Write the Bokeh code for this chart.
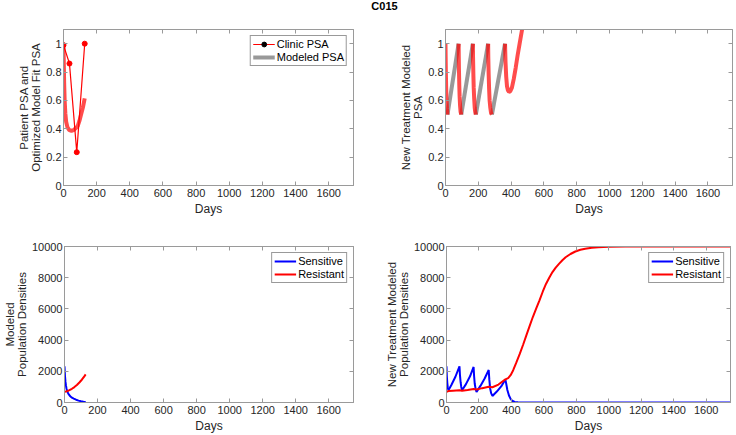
from bokeh.plotting import figure
from bokeh.layouts import column, row
from bokeh.models import (Range1d, FixedTicker, PrintfTickFormatter, LinearAxis,
                          Legend, LegendItem, Label, CustomLabelingPolicy)
from bokeh.embed import file_html
from bokeh.resources import INLINE

# ---------------- data ----------------
title_text = "C015"
x_ticks = [0, 200, 400, 600, 800, 1000, 1200, 1400, 1600]
psa_ticks = [0, 0.2, 0.4, 0.6, 0.8, 1.0]
pop_ticks = [0, 2000, 4000, 6000, 8000, 10000]

# top-left: clinic PSA and fitted model
clinic_days = [0, 36, 80, 128]
clinic_psa = [0.99, 0.86, 0.235, 1.0]
fit_days = [0, 2, 4, 7, 11, 16, 24, 35, 48, 60, 75, 86, 96, 106, 117, 128]
fit_psa = [1.0, 0.85, 0.72, 0.60, 0.51, 0.45, 0.41, 0.39, 0.385, 0.39, 0.405,
           0.42, 0.455, 0.50, 0.55, 0.615]
# legend sample glyphs (kept outside the visible day range)
legend_proxy_days = [-200, -100]
legend_proxy_vals = [0.5, 0.5]

# top-right: new treatment modeled PSA (on treatment = red, off = gray)
on_days = [
    [0, 1, 2, 4, 6, 9, 12],
    [80, 81, 82, 84, 86, 89, 92, 96],
    [167, 168, 170, 172, 175, 178, 181, 185],
    [260, 261, 263, 266, 269, 273, 278, 283],
    [363, 366, 370, 375, 381, 387, 395, 405, 416, 428, 440, 452, 467, 480],
]
on_psa = [
    [1.0, 0.9, 0.81, 0.69, 0.61, 0.54, 0.5],
    [1.0, 0.9, 0.82, 0.71, 0.63, 0.56, 0.52, 0.5],
    [1.0, 0.9, 0.78, 0.69, 0.61, 0.55, 0.52, 0.5],
    [1.0, 0.9, 0.79, 0.68, 0.60, 0.55, 0.51, 0.5],
    [1.0, 0.87, 0.77, 0.70, 0.67, 0.66, 0.665, 0.69, 0.75, 0.83, 0.92, 1.0, 1.1, 1.2],
]
off_days = [[12, 80], [96, 167], [185, 260], [283, 363]]
off_psa = [[0.5, 1.0], [0.5, 1.0], [0.5, 1.0], [0.5, 1.0]]

# bottom-left: modeled population densities
fit_sens_days = [0, 3, 6, 9, 12, 16, 21, 27, 35, 45, 56, 70, 85, 100, 115, 128]
fit_sens = [2320, 1700, 1320, 1080, 900, 740, 610, 500, 400, 310, 250, 180, 120,
            80, 50, 30]
fit_res_days = [0, 15, 30, 45, 60, 75, 90, 105, 120, 128]
fit_res = [680, 720, 790, 880, 990, 1120, 1280, 1460, 1670, 1800]

# bottom-right: new treatment population densities
new_sens_days = [0, 2, 5, 8, 12, 30, 55, 80, 83, 87, 91, 96, 120, 145, 167, 170,
                 174, 179, 185, 210, 235, 260, 264, 269, 275, 283, 310, 337, 363,
                 368, 375, 385, 395, 405, 420, 440, 480, 1750]
new_sens = [2320, 1700, 1250, 950, 780, 1120, 1650, 2320, 1750, 1300, 1000, 790,
            1180, 1680, 2280, 1700, 1200, 900, 680, 1080, 1540, 2080, 1450, 900,
            600, 420, 700, 1030, 1470, 1200, 800, 450, 230, 110, 40, 10, 0, 0]
new_res_days = [0, 12, 40, 80, 96, 130, 167, 185, 220, 260, 283, 320, 363, 380,
                395, 411, 430, 452, 472, 492, 512, 532, 553, 573, 593, 613, 633,
                653, 673, 693, 714, 734, 764, 794, 825, 855, 895, 935, 1000, 1100,
                1300, 1750]
new_res = [680, 730, 760, 790, 750, 800, 870, 830, 920, 1010, 980, 1150, 1480,
           1560, 1750, 2070, 2550, 3130, 3700, 4300, 4900, 5480, 6030, 6550, 7100,
           7600, 8000, 8360, 8650, 8890, 9120, 9310, 9520, 9680, 9790, 9860, 9920,
           9955, 9985, 9998, 10000, 10000]

# ---------------- style ----------------
FONT = "Liberation Sans"
TXT = "#262626"
AX = "#9a9a9a"
RED = "#ff0000"
BLUE = "#0000ff"
GRAY = "#808080"


def style_axis(ax, hide_labels=False, vertical=False):
    ax.axis_line_color = AX
    ax.major_tick_line_color = AX
    ax.major_tick_in = 4
    ax.major_tick_out = 0
    ax.minor_tick_line_color = None
    ax.major_label_text_font = FONT
    ax.major_label_text_color = TXT
    ax.axis_label_text_font = FONT
    ax.axis_label_text_font_size = "11.5px" if vertical else "12px"
    ax.axis_label_text_font_style = "normal"
    ax.axis_label_text_color = TXT
    ax.axis_label_text_line_height = 1.0
    ax.axis_label_standoff = 1 if vertical else 2
    ax.major_label_text_font_size = "11px"
    ax.major_label_standoff = 2 if vertical else 3
    if hide_labels:
        ax.major_label_text_font_size = "1px"
        ax.major_label_standoff = 0
        ax.major_label_policy = CustomLabelingPolicy(code="return []")


def make_fig(width, height, ymax, yticks, ylabel, b_left, b_right, b_top, b_bottom):
    p = figure(width=width, height=height, x_range=Range1d(0, 1750),
               y_range=Range1d(0, ymax), toolbar_location=None,
               output_backend="svg", min_border_left=b_left,
               min_border_right=b_right, min_border_top=b_top,
               min_border_bottom=b_bottom)
    p.grid.visible = False
    p.outline_line_color = AX
    p.background_fill_color = "white"
    p.border_fill_color = "white"
    p.xaxis.ticker = FixedTicker(ticks=x_ticks)
    p.yaxis.ticker = FixedTicker(ticks=yticks)
    p.yaxis.formatter = PrintfTickFormatter(format="%g")
    p.xaxis.axis_label = "Days"
    p.yaxis.axis_label = ylabel
    for ax in p.xaxis:
        style_axis(ax)
    for ax in p.yaxis:
        style_axis(ax, vertical=True)
    top = LinearAxis(ticker=FixedTicker(ticks=x_ticks))
    style_axis(top, hide_labels=True)
    p.add_layout(top, "above")
    right = LinearAxis(ticker=FixedTicker(ticks=yticks))
    style_axis(right, hide_labels=True)
    p.add_layout(right, "right")
    return p


def make_legend(items):
    return Legend(items=items, location="top_right", margin=6,
                  label_text_font=FONT, label_text_font_size="11px",
                  label_text_color="black", glyph_width=22, glyph_height=12,
                  label_height=12, label_standoff=2, padding=2, spacing=1,
                  border_line_color="#333333", border_line_width=1,
                  background_fill_color="white", background_fill_alpha=1.0)


B_LEFT = 63
W_LEFT = 445 - B_LEFT
W_RIGHT = 736 - W_LEFT
H_TITLE = 14
H_TOP = 211
H_BOT = 435 - H_TITLE - H_TOP

# title strip
p0 = figure(width=736, height=H_TITLE, x_range=Range1d(0, 736),
            y_range=Range1d(0, H_TITLE), toolbar_location=None,
            output_backend="svg", min_border=0,
            x_axis_location=None, y_axis_location=None)
p0.grid.visible = False
p0.outline_line_color = None
p0.add_layout(Label(x=384, y=9, text=title_text, text_align="center",
                    text_baseline="middle", text_font=FONT, text_font_size="11px",
                    text_font_style="bold", text_color="black"))

# top-left
p1 = make_fig(W_LEFT, H_TOP, 1.1, psa_ticks,
              "Patient PSA and\nOptimized Model Fit PSA", B_LEFT, 29, 15, 40)
r_fit = p1.line(fit_days, fit_psa, color=RED, alpha=0.7, line_width=4)
r_cl = p1.line(clinic_days, clinic_psa, color=RED, line_width=1.2)
p1.scatter(clinic_days, clinic_psa, size=5, color=RED)
r_mk = p1.scatter(legend_proxy_days, legend_proxy_vals, size=5, color="black")
r_gr = p1.line(legend_proxy_days, legend_proxy_vals, color=GRAY, alpha=0.8,
               line_width=4)
p1.add_layout(make_legend([LegendItem(label="Clinic PSA", renderers=[r_cl, r_mk]),
                           LegendItem(label="Modeled PSA", renderers=[r_gr])]))

# top-right
p2 = make_fig(W_RIGHT, H_TOP, 1.1, psa_ticks,
              "New Treatment Modeled\nPSA", B_LEFT, 1, 15, 40)
p2.multi_line(off_days, off_psa, color=GRAY, alpha=0.8, line_width=4)
p2.multi_line(on_days, on_psa, color=RED, alpha=0.7, line_width=4)

# bottom-left
p3 = make_fig(W_LEFT, H_BOT, 10000, pop_ticks,
              "Modeled\nPopulation Densities", B_LEFT, 29, 21, 33)
r_s1 = p3.line(fit_sens_days, fit_sens, color=BLUE, line_width=2)
r_r1 = p3.line(fit_res_days, fit_res, color=RED, line_width=2)
p3.add_layout(make_legend([LegendItem(label="Sensitive", renderers=[r_s1]),
                           LegendItem(label="Resistant", renderers=[r_r1])]))

# bottom-right
p4 = make_fig(W_RIGHT, H_BOT, 10000, pop_ticks,
              "New Treatment Modeled\nPopulation Densities", B_LEFT, 1, 21, 33)
r_s2 = p4.line(new_sens_days, new_sens, color=BLUE, line_width=2)
r_r2 = p4.line(new_res_days, new_res, color=RED, line_width=2)
p4.add_layout(make_legend([LegendItem(label="Sensitive", renderers=[r_s2]),
                           LegendItem(label="Resistant", renderers=[r_r2])]))

layout = column(p0, row(p1, p2), row(p3, p4))
open("out.html", "w").write(file_html(layout, INLINE, title="C015"))
